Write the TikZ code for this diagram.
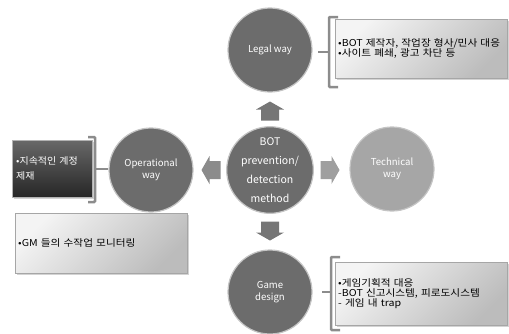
\documentclass[tikz,border=0pt]{standalone}
\usepackage{fontspec}
\setmainfont{Noto Sans CJK KR}
\newfontfamily\widekr[FakeStretch=1.12]{Noto Sans CJK KR}
\newfontfamily\semiwidekr[FakeStretch=1.05]{Noto Sans CJK KR}
\usetikzlibrary{shadows}
\definecolor{circdark}{RGB}{108,108,108}
\definecolor{circlight}{RGB}{166,166,166}
\definecolor{circborder}{RGB}{196,196,196}
\definecolor{arrowgray}{RGB}{118,118,118}
\definecolor{bracketgray}{RGB}{140,140,140}
\definecolor{boxlightA}{RGB}{244,244,244}
\definecolor{boxlightB}{RGB}{188,188,188}
\definecolor{boxdarkA}{RGB}{104,104,104}
\definecolor{boxdarkB}{RGB}{38,38,38}
\begin{document}
\begin{tikzpicture}[x=1pt,y=-1pt,
  waycircle/.style={circle,minimum size=84pt,inner sep=0pt,fill=circdark,draw=circborder,line width=1.2pt,
    text=white,align=center,font=\fontsize{9.6}{12}\selectfont},
  blockarrow/.pic={\fill[pic actions] (0,-9.5) -- (14,-1.5) -- (9,-1.5) -- (9,9.5) -- (-9,9.5) -- (-9,-1.5) -- (-14,-1.5) -- cycle;},
  lightbox/.style={rectangle,anchor=north west,draw=gray!70,line width=0.4pt,
    top color=boxlightA,bottom color=boxlightB,shading angle=45,
    drop shadow={shadow xshift=1.5pt,shadow yshift=-1.5pt,opacity=0.35},
    align=left,inner sep=2pt,font=\widekr\fontsize{9.5}{9.8}\selectfont},
  darkbox/.style={rectangle,anchor=north west,draw=gray!60,line width=0.4pt,
    top color=boxdarkA,bottom color=boxdarkB,
    drop shadow={shadow xshift=1.5pt,shadow yshift=-1.5pt,opacity=0.35},
    align=left,inner sep=4pt,text=white,font=\semiwidekr\fontsize{9.5}{15}\selectfont},
  bracketline/.style={draw=bracketgray,line width=2.5pt,rounded corners=1pt}
]
\useasboundingbox (0,0) rectangle (509,333);

% circles
\node[waycircle,font=\fontsize{10.5}{11}\selectfont] (center) at (270,170) {BOT\\[8pt]prevention/\\[8pt]detection\\[8pt]method};
\node[waycircle] (legal) at (270,50) {Legal way};
\node[waycircle] (oper) at (151,170) {Operational\\way};
\node[waycircle,fill=circlight] (tech) at (392,169) {Technical\\way};
\node[waycircle] (game) at (270,292) {Game\\design};

% block arrows
\pic[fill=arrowgray] (aup) at (270,111) {blockarrow};
\pic[fill=arrowgray,rotate=180] (adown) at (270,231) {blockarrow};
\pic[fill=arrowgray!85!white,rotate=90] (aleft) at (211,170) {blockarrow};
\pic[fill=arrowgray!70!white,rotate=-90] (aright) at (330,170) {blockarrow};

% text boxes
\node[lightbox,minimum width=172pt,minimum height=59pt,text width=166pt] (legalbox) at (335,19)
  {•BOT 제작자, 작업장 형사/민사 대응\\•사이트 폐쇄, 광고 차단 등};
\node[lightbox,minimum width=172pt,minimum height=63pt,text width=166pt] (gamebox) at (335,262)
  {•게임기획적 대응\\-BOT 신고시스템, 피로도시스템\\- 게임 내 trap};
\node[lightbox,minimum width=172pt,minimum height=60pt,text width=166pt] (gmbox) at (15,213)
  {•GM 들의 수작업 모니터링};
\node[darkbox,minimum width=80pt,minimum height=57pt,text width=72pt] (operbox) at (12,140)
  {•지속적인 계정\\제재};

% brackets
\draw[bracketline] (338,17) -- (329,17) -- (329,87) -- (338,87);
\draw[bracketline] (329,52) -- (318,52);
\draw[bracketline] (340,257) -- (331,257) -- (331,330) -- (340,330);
\draw[bracketline] (331,292) -- (322,292);
\draw[bracketline] (88,137) -- (95,137) -- (95,202) -- (88,202);
\draw[bracketline] (95,169) -- (108,169);
\end{tikzpicture}
\end{document}
